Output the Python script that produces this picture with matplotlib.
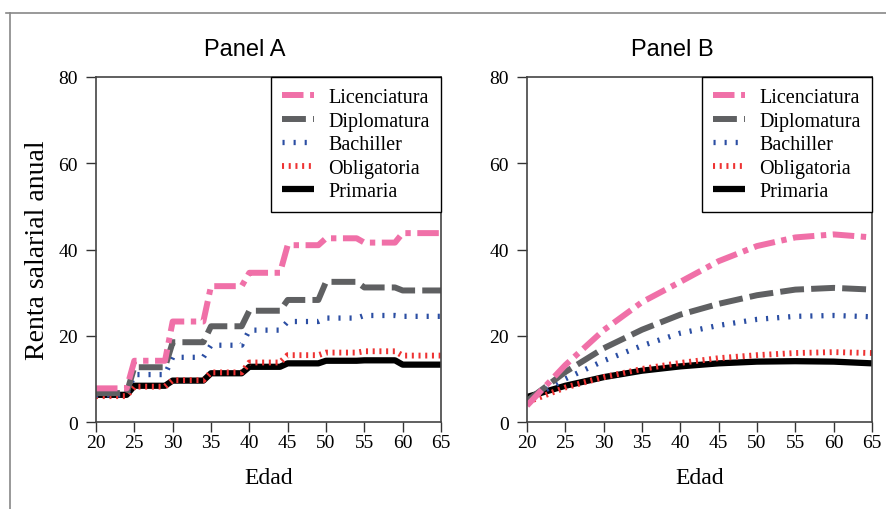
import numpy as np
import matplotlib
matplotlib.use("Agg")
import matplotlib.pyplot as plt
from matplotlib.lines import Line2D

plt.rcParams['font.family'] = ['Liberation Serif', 'DejaVu Serif']

# Panel A: valores por tramos de edad de 5 años (20-24, 25-29, ..., 60-65)
tramos = [20, 25, 30, 35, 40, 45, 50, 55, 60]
lic_a = [7.8, 14.2, 23.3, 31.5, 34.6, 41.0, 42.6, 41.6, 43.8]
dip_a = [6.7, 12.7, 18.5, 22.2, 25.8, 28.3, 32.5, 31.2, 30.5]
bac_a = [6.3, 11.0, 15.0, 17.8, 21.3, 23.3, 24.1, 24.7, 24.5]
obl_a = [6.0, 8.2, 9.7, 11.5, 13.8, 15.5, 16.1, 16.4, 15.4]
pri_a = [6.3, 8.4, 9.6, 11.3, 12.8, 13.6, 14.2, 14.3, 13.3]

# Panel B: perfiles suavizados
edades_b = [20, 25, 30, 35, 40, 45, 50, 55, 60, 65]
lic_b = [3.8, 13.2, 21.3, 27.8, 32.5, 37.3, 40.8, 42.8, 43.5, 42.8]
dip_b = [4.9, 11.6, 17.1, 21.4, 24.9, 27.4, 29.4, 30.7, 31.1, 30.7]
bac_b = [5.0, 10.0, 14.2, 17.7, 20.6, 22.4, 23.8, 24.5, 24.7, 24.4]
obl_b = [4.6, 8.0, 10.4, 12.3, 13.7, 14.8, 15.5, 16.0, 16.2, 16.0]
pri_b = [5.8, 8.4, 10.4, 11.9, 12.9, 13.6, 14.0, 14.1, 14.0, 13.6]

nombres = ['Licenciatura', 'Diplomatura', 'Bachiller', 'Obligatoria', 'Primaria']
estilos = {
    'Licenciatura': dict(color='#f070a8', lw=4.3, ls=(0, (3.6, 1.1, 0.9, 1.1))),
    'Diplomatura': dict(color='#5f6062', lw=4.3, ls=(0, (4.0, 1.2))),
    'Bachiller': dict(color='#2b4ea3', lw=3.8, ls=(0, (0.4, 1.7))),
    'Obligatoria': dict(color='#ee3333', lw=4.2, ls=(0, (0.35, 0.8))),
    'Primaria': dict(color='black', lw=4.5, ls='-'),
}

edades_a = np.arange(20, 66)
idx = np.minimum((edades_a - 20) // 5, len(tramos) - 1)


def dibujar(ax, series, x, titulo, tx, ylabel=False):
    lineas = {}
    for nom in ['Primaria', 'Obligatoria', 'Bachiller', 'Diplomatura', 'Licenciatura']:
        st = estilos[nom]
        l, = ax.plot(x, series[nom], color=st['color'], lw=st['lw'],
                     linestyle=st['ls'], label=nom, solid_capstyle='butt',
                     dash_capstyle='butt')
        lineas[nom] = l
    ax.set_xlim(20, 65)
    ax.set_ylim(0, 80)
    ax.set_xticks(range(20, 66, 5))
    ax.set_yticks(range(0, 81, 20))
    ax.tick_params(direction='out', length=7, width=1, labelsize=14,
                   color='#333333')
    ax.tick_params(axis='x', pad=2)
    ax.tick_params(axis='y', pad=6)
    for s in ax.spines.values():
        s.set_color('#444444')
        s.set_linewidth(1.2)
    ax.set_xlabel('Edad', fontsize=17, labelpad=11)
    if ylabel:
        ax.set_ylabel('Renta salarial anual', fontsize=20, labelpad=6)
    ax.set_title(titulo, fontsize=17, pad=16, x=tx,
                 family=['Liberation Sans Narrow', 'Liberation Sans', 'DejaVu Sans'])
    leg = ax.legend([lineas[n] for n in nombres], nombres, loc='upper right',
                    fontsize=14.5, frameon=True, fancybox=False, framealpha=1,
                    edgecolor='black', borderaxespad=0, handlelength=1.6,
                    handletextpad=0.7, labelspacing=0.22, borderpad=0.55)
    leg.get_frame().set_linewidth(1.0)


fig = plt.figure(figsize=(8.86, 5.10), dpi=100)

ax1 = fig.add_axes([96 / 886, 1 - 423 / 510, 345 / 886, 345 / 510])
ax2 = fig.add_axes([527 / 886, 1 - 423 / 510, 345 / 886, 345 / 510])

serie_a = {
    'Licenciatura': np.array(lic_a)[idx],
    'Diplomatura': np.array(dip_a)[idx],
    'Bachiller': np.array(bac_a)[idx],
    'Obligatoria': np.array(obl_a)[idx],
    'Primaria': np.array(pri_a)[idx],
}
serie_b = {
    'Licenciatura': lic_b,
    'Diplomatura': dip_b,
    'Bachiller': bac_b,
    'Obligatoria': obl_b,
    'Primaria': pri_b,
}

dibujar(ax1, serie_a, edades_a, 'Panel A', 0.432, ylabel=True)
dibujar(ax2, serie_b, edades_b, 'Panel B', 0.42)

# marco parcial de la figura
fig.add_artist(Line2D([6 / 886, 1], [1 - 14 / 510, 1 - 14 / 510], color='#888888', lw=1.2))
fig.add_artist(Line2D([10 / 886, 10 / 886], [0, 1 - 14 / 510], color='#888888', lw=1.2))

fig.savefig('out.png', dpi=100)
